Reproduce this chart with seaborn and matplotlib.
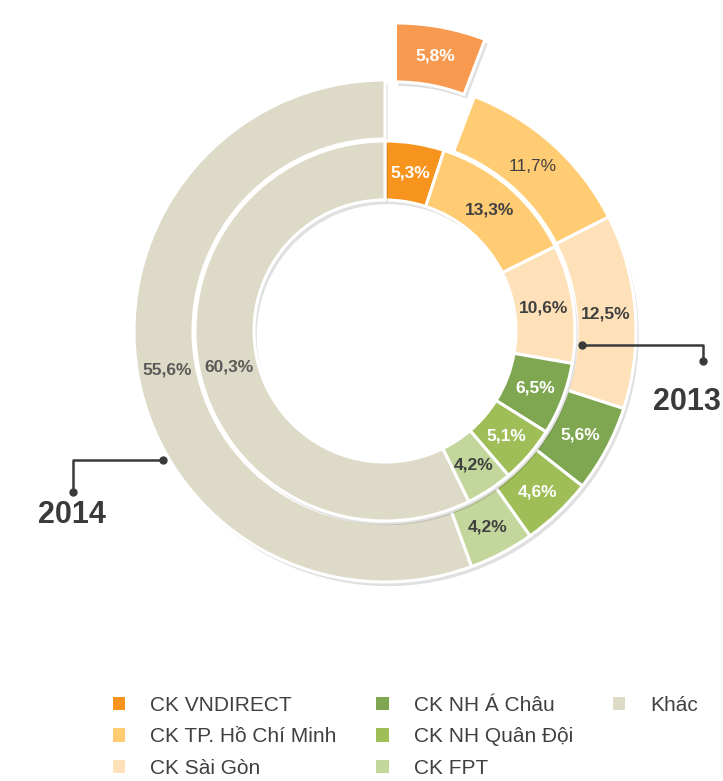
import numpy as np
import matplotlib
matplotlib.use("Agg")
import matplotlib.pyplot as plt
import matplotlib.patheffects as pe
from matplotlib.patches import Patch
import seaborn as sns

# data
companies = ["CK VNDIRECT", "CK TP. Hồ Chí Minh", "CK Sài Gòn",
             "CK NH Á Châu", "CK NH Quân Đội", "CK FPT", "Khác"]
share_2014 = [5.8, 11.7, 12.5, 5.6, 4.6, 4.2, 55.6]
share_2013 = [5.3, 13.3, 10.6, 6.5, 5.1, 4.2, 60.3]

colors_2014 = ["#F79A50", "#FFCC73", "#FEE1B8", "#7FA650", "#9FBE58", "#C3D69B", "#DEDAC8"]
colors_2013 = ["#F7941D", "#FFCC73", "#FEE1B8", "#7FA650", "#9FBE58", "#C3D69B", "#DEDAC8"]
txt_2014 = ["white", "#404040", "#404040", "white", "white", "#404040", "#595959"]
txt_2013 = ["white", "#404040", "#404040", "white", "white", "#404040", "#595959"]

sns.set_theme(style="white")
plt.rcParams['font.family'] = ['Liberation Sans', 'DejaVu Sans']

fig = plt.figure(figsize=(7.23, 7.81), dpi=100)
ax = fig.add_axes([0, 0, 1, 1])

cx, cy = 385, 781 - 331
r_out, r_in, w = 251, 190, 59
shadow = [pe.SimplePatchShadow(offset=(2, -3), shadow_rgbFace="#000000", alpha=0.12), pe.Normal()]

# explode is in data units here (pixels)
wedges_out, _ = ax.pie(share_2014, radius=r_out, center=(cx, cy), startangle=90,
                       counterclock=False, colors=colors_2014,
                       explode=[58, 0, 0, 0, 0, 0, 0],
                       wedgeprops=dict(width=w, edgecolor="white", linewidth=2.2))
wedges_in, _ = ax.pie(share_2013, radius=r_in, center=(cx, cy), startangle=90,
                      counterclock=False, colors=colors_2013,
                      wedgeprops=dict(width=w, edgecolor="white", linewidth=2.2))
for wd in wedges_out + wedges_in:
    wd.set_path_effects(shadow)

ax.set_xlim(0, 723)
ax.set_ylim(0, 781)
ax.set_aspect('equal')
ax.axis('off')


def fmt(v):
    return f"{v:.1f}%".replace(".", ",")


def put_labels(wedges, vals, tcolors, rmid, weights):
    for wd, v, c, fw in zip(wedges, vals, tcolors, weights):
        ang = np.deg2rad((wd.theta1 + wd.theta2) / 2)
        x0, y0 = wd.center
        ax.text(x0 + rmid * np.cos(ang), y0 + rmid * np.sin(ang), fmt(v),
                ha="center", va="center", color=c, fontsize=12.5, fontweight=fw,
                family=['Liberation Sans Narrow', 'Liberation Sans'])


put_labels(wedges_out, share_2014, txt_2014, r_out - w / 2,
           ["bold", "normal", "bold", "bold", "bold", "bold", "bold"])
put_labels(wedges_in, share_2013, txt_2013, r_in - w / 2, ["bold"] * 7)

# year callouts
lc = "#3A3A3A"
ax.plot([582, 703, 703], [781 - 345, 781 - 345, 781 - 361], color=lc, lw=1.8)
ax.plot([582, 703], [781 - 345, 781 - 361], "o", color=lc, ms=5)
ax.text(721, 781 - 402, "2013", ha="right", va="center", fontsize=22,
        fontweight="bold", color=lc)
ax.plot([163, 73, 73], [781 - 460, 781 - 460, 781 - 492], color=lc, lw=1.8)
ax.plot([163, 73], [781 - 460, 781 - 492], "o", color=lc, ms=5)
ax.text(72, 781 - 515, "2014", ha="center", va="center", fontsize=22,
        fontweight="bold", color=lc)

# legend: 3 + 3 + 1 entries per column, padded with blanks
handles = [Patch(facecolor=c, edgecolor="none") for c in colors_2013]
handles += [Patch(facecolor="none", edgecolor="none")] * 2
labels = companies + ["", ""]
leg = ax.legend(handles, labels, ncol=3, loc="upper left",
                bbox_to_anchor=(94 / 723, 1 - 677 / 781), frameon=False,
                fontsize=15, handlelength=0.6, handleheight=0.6,
                handletextpad=1.2, columnspacing=1.9, labelspacing=0.6)
for t in leg.get_texts():
    t.set_color("#404040")

fig.savefig("out.png", dpi=100)
